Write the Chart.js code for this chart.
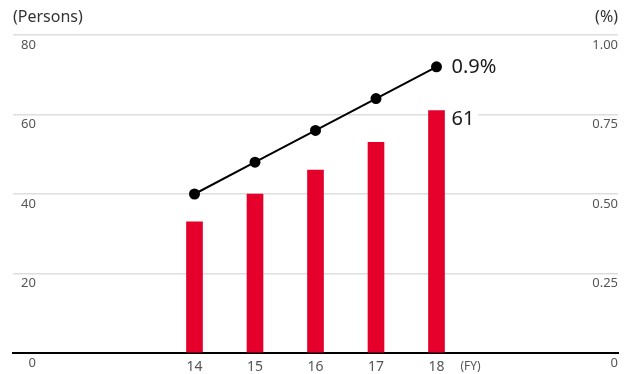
<!DOCTYPE html>
<html>
<head>
<meta charset="utf-8">
<script src="https://cdn.jsdelivr.net/npm/chart.js@4"></script>
<style>
  html, body { margin: 0; padding: 0; background: #fff; }
  canvas { display: block; }
</style>
</head>
<body>
<canvas id="chart" width="632" height="374"></canvas>
<script>
// fiscal years, employees (persons) and ratio (%)
const years = [14, 15, 16, 17, 18];
const persons = [33, 40, 46, 53, 61];
const ratio = [0.5, 0.6, 0.7, 0.8, 0.9];
const leftTicks = [0, 20, 40, 60, 80];
const rightTicks = [0, 0.25, 0.5, 0.75, 1.0];

const FONT = "'Noto Sans', sans-serif";
const RED = '#e4002b';

// unit captions, (FY) and the last-point value labels
const extrasPlugin = {
    id: 'extras',
    afterDatasetsDraw(chart) {
        const ctx = chart.ctx;
        const x = chart.scales.x, y = chart.scales.y, y2 = chart.scales.y2;
        const last = years.length - 1;
        const px = x.getPixelForValue(years[last]);
        ctx.save();
        ctx.textBaseline = 'middle';
        ctx.textAlign = 'left';
        ctx.font = '20px ' + FONT;
        // bar value with white box behind
        const barY = y.getPixelForValue(persons[last]);
        const txt = String(persons[last]);
        const w = ctx.measureText(txt).width;
        ctx.fillStyle = '#fff';
        ctx.fillRect(px + 9, barY - 2, w + 10, 20);
        ctx.fillStyle = '#1a1a1a';
        ctx.fillText(txt, px + 15, barY + 9);
        // line value
        ctx.fillText(ratio[last] + '%', px + 15, y2.getPixelForValue(ratio[last]));
        ctx.restore();
    },
    afterDraw(chart) {
        const ctx = chart.ctx;
        const area = chart.chartArea;
        const x = chart.scales.x;
        ctx.save();
        ctx.textBaseline = 'middle';
        ctx.font = '16px ' + FONT;
        ctx.fillStyle = '#333';
        ctx.textAlign = 'left';
        ctx.fillText('(Persons)', area.left, 17);
        ctx.textAlign = 'right';
        ctx.fillText('(%)', area.right, 17);
        ctx.font = '12px ' + FONT;
        ctx.fillStyle = '#555';
        ctx.textAlign = 'left';
        ctx.fillText('(FY)', x.getPixelForValue(years[years.length - 1]) + 24, 367);
        ctx.restore();
    }
};

new Chart(document.getElementById('chart'), {
    data: {
        datasets: [{
            type: 'line',
            data: years.map((v, i) => ({ x: v, y: ratio[i] })),
            yAxisID: 'y2',
            borderColor: '#000',
            borderWidth: 2,
            pointRadius: 4.5,
            pointBackgroundColor: '#000',
            pointBorderColor: '#000',
            tension: 0
        }, {
            type: 'bar',
            data: years.map((v, i) => ({ x: v, y: persons[i] })),
            yAxisID: 'y',
            backgroundColor: RED,
            barThickness: 16
        }]
    },
    plugins: [extrasPlugin],
    options: {
        responsive: false,
        animation: false,
        layout: { padding: { top: 35, left: 13, right: 14, bottom: 0 } },
        plugins: { legend: { display: false }, tooltip: { enabled: false } },
        scales: {
            x: {
                type: 'linear',
                min: 11,
                max: 21,
                offset: false,
                grid: { display: false, drawTicks: false, offset: false },
                border: { display: true, color: '#000', width: 2 },
                afterBuildTicks: s => { s.ticks = years.map(v => ({ value: v })); },
                afterFit: s => { s.height = 21; },
                ticks: {
                    autoSkip: false,
                    maxRotation: 0,
                    padding: 6,
                    color: '#555',
                    font: { family: FONT, size: 14, lineHeight: 1.2 },
                    callback: v => String(v)
                }
            },
            y: {
                position: 'left',
                min: 0,
                max: 80,
                afterBuildTicks: s => { s.ticks = leftTicks.map(v => ({ value: v })); },
                afterFit: s => { s.width = 0; },
                grid: { color: '#dedede', lineWidth: 1.5, drawTicks: false },
                border: { display: false },
                ticks: {
                    mirror: true,
                    crossAlign: 'far',
                    padding: 8,
                    labelOffset: 10,
                    color: '#555',
                    font: { family: FONT, size: 13 }
                }
            },
            y2: {
                position: 'right',
                min: 0,
                max: 1,
                afterBuildTicks: s => { s.ticks = rightTicks.map(v => ({ value: v })); },
                afterFit: s => { s.width = 0; },
                grid: { display: false, drawTicks: false },
                border: { display: false },
                ticks: {
                    mirror: true,
                    padding: 0,
                    labelOffset: 10,
                    color: '#555',
                    font: { family: FONT, size: 13 },
                    callback: v => v === 0 ? '0' : v.toFixed(2)
                }
            }
        }
    }
});
</script>
</body>
</html>
